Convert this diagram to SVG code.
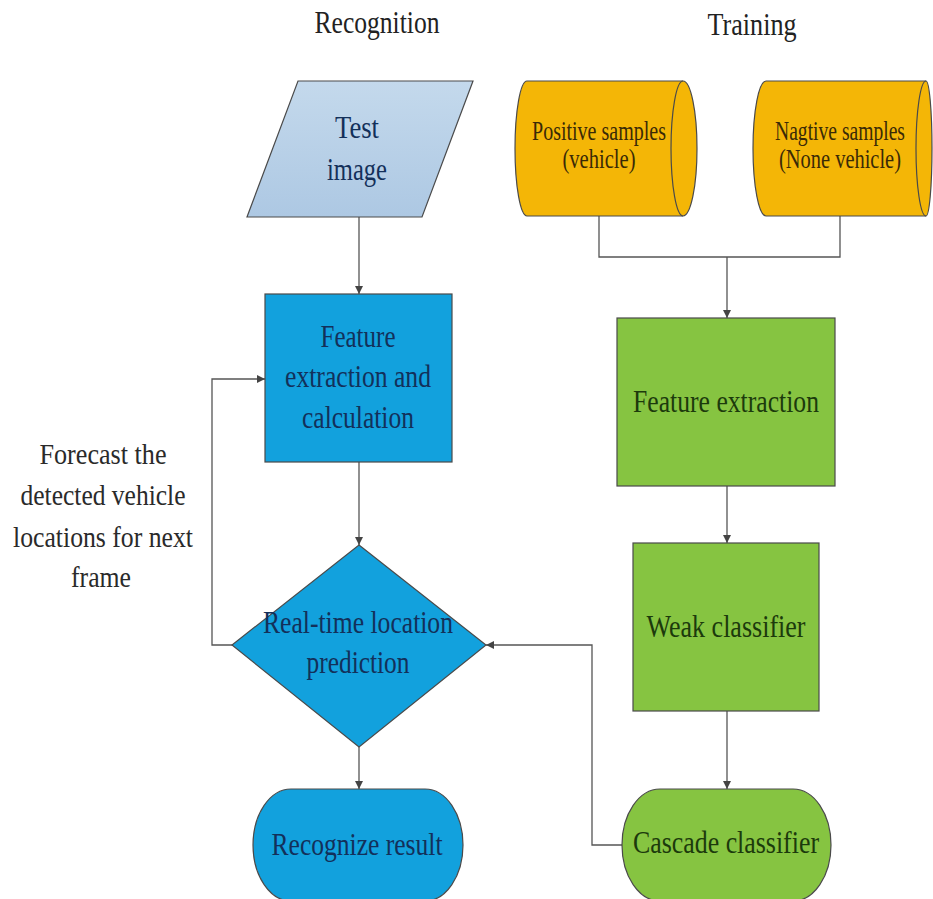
<svg xmlns="http://www.w3.org/2000/svg" width="933" height="899" viewBox="0 0 933 899">
  <style>
    text { font-family: "Liberation Serif", "Times New Roman", serif; text-anchor: middle; }
    .title { font-size: 31px; fill: #222; }
    .note { font-size: 29px; fill: #2a2a2a; }
    .tb { font-size: 32px; fill: #13305a; }
    .tg { font-size: 32px; fill: #1c3a0c; }
    .ty { font-size: 27px; fill: #3a2a06; }
    .shape { stroke: #4a4a4a; stroke-width: 1.2; }
    .blue { fill: #12a1dd; }
    .green { fill: #86c441; }
    .yellow { fill: #f4b606; }
    .conn { fill: none; stroke: #555; stroke-width: 1.3; }
  </style>
  <defs>
    <linearGradient id="paleBlue" x1="0" y1="0" x2="0" y2="1">
      <stop offset="0" stop-color="#c4d9ec"/>
      <stop offset="1" stop-color="#adc8e3"/>
    </linearGradient>
    <marker id="arrow" viewBox="0 0 10 10" refX="10" refY="5" markerWidth="8" markerHeight="8" markerUnits="userSpaceOnUse" orient="auto">
      <path d="M0,0 L10,5 L0,10 z" fill="#444"/>
    </marker>
  </defs>

  <rect width="933" height="899" fill="#ffffff"/>

  <!-- column headings -->
  <text class="title" x="377" y="33" textLength="125" lengthAdjust="spacingAndGlyphs">Recognition</text>
  <text class="title" x="752" y="35" textLength="89" lengthAdjust="spacingAndGlyphs">Training</text>

  <!-- side note for the feedback loop -->
  <g id="forecast-note">
    <text class="note" x="103" y="464" textLength="127" lengthAdjust="spacingAndGlyphs">Forecast the</text>
    <text class="note" x="103" y="505" textLength="165" lengthAdjust="spacingAndGlyphs">detected vehicle</text>
    <text class="note" x="103" y="547" textLength="180" lengthAdjust="spacingAndGlyphs">locations for next</text>
    <text class="note" x="101" y="587" textLength="60" lengthAdjust="spacingAndGlyphs">frame</text>
  </g>

  <!-- connectors -->
  <g id="connectors">
    <path class="conn" d="M359,217 L359,294" marker-end="url(#arrow)"/>
    <path class="conn" d="M359,462 L359,545" marker-end="url(#arrow)"/>
    <path class="conn" d="M359,747 L359,789" marker-end="url(#arrow)"/>
    <path class="conn" d="M232,645 L212,645 L212,379 L265,379" marker-end="url(#arrow)"/>
    <path class="conn" d="M599,216 L599,257 L840,257 L840,216"/>
    <path class="conn" d="M727,257 L727,318" marker-end="url(#arrow)"/>
    <path class="conn" d="M727,486 L727,543" marker-end="url(#arrow)"/>
    <path class="conn" d="M727,711 L727,789" marker-end="url(#arrow)"/>
    <path class="conn" d="M622,845 L592,845 L592,645 L486,645" marker-end="url(#arrow)"/>
  </g>

  <!-- recognition column -->
  <g id="test-image">
    <polygon class="shape" points="298,81 473,81 422,217 247,217" fill="url(#paleBlue)"/>
    <text class="tb" x="357" y="138" textLength="44" lengthAdjust="spacingAndGlyphs">Test</text>
    <text class="tb" x="357" y="180" textLength="60" lengthAdjust="spacingAndGlyphs">image</text>
  </g>

  <g id="feature-calc">
    <rect class="shape blue" x="265" y="294" width="187" height="168"/>
    <text class="tb" x="358" y="347" textLength="75" lengthAdjust="spacingAndGlyphs">Feature</text>
    <text class="tb" x="358" y="387" textLength="146" lengthAdjust="spacingAndGlyphs">extraction and</text>
    <text class="tb" x="358" y="428" textLength="112" lengthAdjust="spacingAndGlyphs">calculation</text>
  </g>

  <g id="location-prediction">
    <polygon class="shape blue" points="359,545 486,645 359,747 232,645"/>
    <text class="tb" x="358" y="633" textLength="190" lengthAdjust="spacingAndGlyphs">Real-time location</text>
    <text class="tb" x="358" y="673" textLength="103" lengthAdjust="spacingAndGlyphs">prediction</text>
  </g>

  <g id="recognize-result">
    <rect class="shape blue" x="253" y="789" width="210" height="112" rx="38" ry="56"/>
    <text class="tb" x="357" y="855" textLength="171" lengthAdjust="spacingAndGlyphs">Recognize result</text>
  </g>

  <!-- training column -->
  <g id="positive-samples">
    <path class="shape yellow" d="M527,81 L683,81 A14,67.5 0 0 1 683,216 L527,216 A12,67.5 0 0 1 527,81 Z"/>
    <path class="shape" fill="none" d="M683,81 A12,67.5 0 0 0 683,216"/>
    <text class="ty" x="599" y="140" textLength="134" lengthAdjust="spacingAndGlyphs">Positive samples</text>
    <text class="ty" x="599" y="168" textLength="73" lengthAdjust="spacingAndGlyphs">(vehicle)</text>
  </g>

  <g id="negative-samples">
    <path class="shape yellow" d="M766,81 L926,81 A6,67.5 0 0 1 926,216 L766,216 A13,67.5 0 0 1 766,81 Z"/>
    <path class="shape" fill="none" d="M926,81 A10,67.5 0 0 0 926,216"/>
    <!-- narrow lettering: scaled horizontally so the labels stay inside the drum -->
    <text class="ty" transform="translate(840 140) scale(0.725 1)">Nagtive samples</text>
    <text class="ty" transform="translate(840 168) scale(0.757 1)">(None vehicle)</text>
  </g>

  <g id="feature-extraction">
    <rect class="shape green" x="617" y="318" width="218" height="168"/>
    <text class="tg" x="726" y="412" textLength="186" lengthAdjust="spacingAndGlyphs">Feature extraction</text>
  </g>

  <g id="weak-classifier">
    <rect class="shape green" x="633" y="543" width="186" height="168"/>
    <text class="tg" x="726" y="637" textLength="159" lengthAdjust="spacingAndGlyphs">Weak classifier</text>
  </g>

  <g id="cascade-classifier">
    <rect class="shape green" x="622" y="789" width="209" height="112" rx="38" ry="56"/>
    <text class="tg" x="726" y="853" textLength="186" lengthAdjust="spacingAndGlyphs">Cascade classifier</text>
  </g>
</svg>
